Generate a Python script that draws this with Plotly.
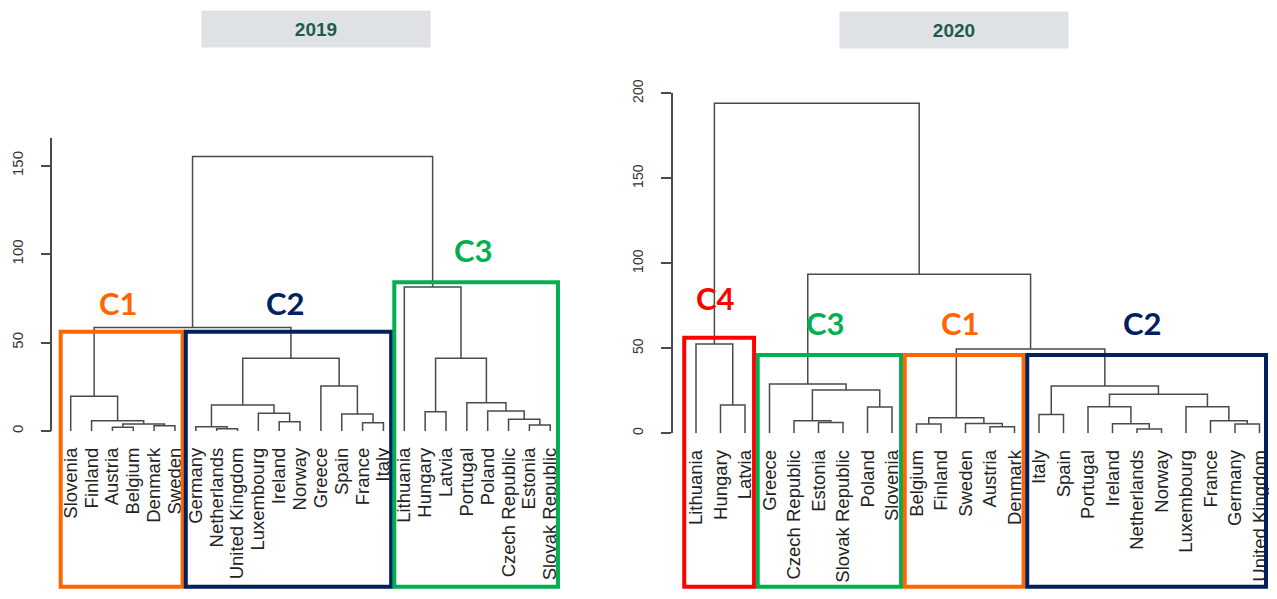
import plotly.graph_objects as go

# The page adds an 8 px body margin on every side; the figure is sized so that the
# page does not overflow the 1277x599 window, and all pixel positions below
# (measured on the screenshot) are shifted by that margin.
PAGE_OFF = 8
W, H = 1277 - 2 * PAGE_OFF, 599 - 2 * PAGE_OFF

# ---------------- data ----------------
leaves_2019 = ["Slovenia", "Finland", "Austria", "Belgium", "Denmark", "Sweden",
               "Germany", "Netherlands", "United Kingdom", "Luxembourg", "Ireland", "Norway",
               "Greece", "Spain", "France", "Italy", "Lithuania", "Hungary", "Latvia",
               "Portugal", "Poland", "Czech Republic", "Estonia", "Slovak Republic"]
# R-style merge matrix: negative = leaf (1-based), positive = earlier merge (1-based)
merge_a_2019 = [-8, -3, -7, -5, -23, 2, -15, -11, -22, -2, -14, -10, -18, -21, 3, -20, -1, -13, 15, 13, 17, -17, 21]
merge_b_2019 = [-9, -4, 1, -6, -24, 4, -16, -12, 5, 6, 7, 8, -19, 9, 12, 14, 10, 11, 18, 16, 19, 20, 22]
merge_h_2019 = [1.3, 2.1, 2.4, 3.0, 3.4, 4.0, 4.7, 5.3, 6.6, 5.8, 9.6, 10.0, 10.9, 11.3, 14.7, 16.0,
                19.7, 25.4, 41.2, 41.2, 58.6, 81.4, 155.3]

leaves_2020 = ["Lithuania", "Hungary", "Latvia", "Greece", "Czech Republic", "Estonia",
               "Slovak Republic", "Poland", "Slovenia", "Belgium", "Finland", "Sweden", "Austria",
               "Denmark", "Italy", "Spain", "Portugal", "Ireland", "Netherlands", "Norway",
               "Luxembourg", "France", "Germany", "United Kingdom"]
merge_a_2020 = [-19, -13, -23, -10, -18, -12, -6, -5, -22, 4, -15, -17, -21, -8, -2, 12, 8, 11, -4, 10, -1, 19, 21]
merge_b_2020 = [-20, -14, -24, -11, 1, 2, -7, 7, 3, 6, -16, 5, 9, -9, -3, 13, 14, 16, 17, 18, 15, 20, 22]
merge_h_2020 = [2.5, 3.9, 5.4, 5.5, 5.6, 5.7, 6.3, 7.4, 7.4, 9.2, 11.0, 15.6, 15.6, 15.4, 16.7, 22.9,
                25.5, 27.8, 29.0, 49.6, 52.5, 93.5, 194.1]

y_ticks_2019 = [0, 50, 100, 150]
y_ticks_2020 = [0, 50, 100, 150, 200]

cluster_names_2019 = ["C1", "C2", "C3"]
cluster_first_2019 = [0, 6, 16]
cluster_last_2019 = [5, 15, 23]
cluster_top_2019 = [56.1, 56.1, 84.1]

cluster_names_2020 = ["C4", "C3", "C1", "C2"]
cluster_first_2020 = [0, 3, 9, 14]
cluster_last_2020 = [2, 8, 13, 23]
cluster_top_2020 = [56.2, 46.1, 46.1, 46.1]

# ---------------- styling ----------------
CLUSTER_COLORS = {"C1": "#FF6600", "C2": "#002060", "C3": "#00B050", "C4": "#FF0000"}
LINE_COLOR = "#4a4a4a"
label_lift_2019 = [29, 29, 32]
label_lift_2020 = [40, 32, 32, 32]

# panel geometry (screenshot pixels)
P2019 = dict(axis_px=52.3, right_px=600, leaf0_px=70.7, step_px=20.85,
             y0_px=431.0, ytop_px=138.0, ytop_val=165.7)
P2020 = dict(axis_px=672.5, right_px=1277 - PAGE_OFF, leaf0_px=696.0, step_px=24.5,
             y0_px=433.3, ytop_px=93.3, ytop_val=200.0)
BOX_BOTTOM_PX = 586.7


def fx(px):
    return (px - PAGE_OFF) / W


def fy(py):
    return 1 - (py - PAGE_OFF) / H


def dendro_path(ma, mb, mh):
    xs, ys, node_x, node_h = [], [], [], []

    def pos(ref):
        if ref < 0:
            return -ref - 1, 0.0
        return node_x[ref - 1], node_h[ref - 1]

    for a, b, h in zip(ma, mb, mh):
        xa, ha = pos(a)
        xb, hb = pos(b)
        xs += [xa, xa, xb, xb, None]
        ys += [ha, h, h, hb, None]
        node_x.append((xa + xb) / 2)
        node_h.append(h)
    return xs, ys


fig = go.Figure()


def add_panel(idx, P, leaves, ma, mb, mh, yticks, tickfont_size,
              names, firsts, lasts, tops, lifts):
    xa = "x" if idx == 1 else "x2"
    ya = "y" if idx == 1 else "y2"
    xs, ys = dendro_path(ma, mb, mh)
    fig.add_trace(go.Scatter(x=xs, y=ys, mode="lines", xaxis=xa, yaxis=ya,
                             line=dict(color=LINE_COLOR, width=1.5),
                             hoverinfo="skip", showlegend=False))
    r0 = (P["axis_px"] - P["leaf0_px"]) / P["step_px"]
    r1 = (P["right_px"] - P["leaf0_px"]) / P["step_px"]
    dom_b = fy(P["y0_px"])
    dom_t = fy(P["ytop_px"])
    xkey = "xaxis" if idx == 1 else "xaxis2"
    ykey = "yaxis" if idx == 1 else "yaxis2"
    fig.update_layout({
        xkey: dict(domain=[fx(P["axis_px"]), min(1.0, fx(P["right_px"]))], range=[r0, r1],
                   anchor=ya, tickmode="array", tickvals=list(range(len(leaves))),
                   ticktext=leaves, tickangle=-90, showline=False, showgrid=False,
                   zeroline=False, ticks="", ticklabelstandoff=12, automargin=False,
                   ticklabeloverflow="allow",
                   tickfont=dict(family="Liberation Sans, Arial, sans-serif", size=18.5, color="#222222")),
        ykey: dict(domain=[dom_b, dom_t], range=[0, P["ytop_val"]], anchor=xa,
                   tickmode="array", tickvals=yticks, tickangle=-90,
                   showline=True, linecolor=LINE_COLOR, linewidth=1.5,
                   ticks="outside", ticklen=10, tickwidth=1.5, tickcolor=LINE_COLOR,
                   showgrid=False, zeroline=False, ticklabelstandoff=12, automargin=False,
                   ticklabeloverflow="allow",
                   tickfont=dict(family="Liberation Sans, Arial, sans-serif", size=tickfont_size, color="#333333")),
    })
    x_max = r1 - 3.0 / P["step_px"]
    for name, f, l, top, lift in zip(names, firsts, lasts, tops, lifts):
        col = CLUSTER_COLORS[name]
        top_paper = dom_b + top / P["ytop_val"] * (dom_t - dom_b)
        x0, x1 = f - 0.48, min(l + 0.37, x_max)
        fig.add_shape(type="rect", xref=xa, yref="paper", x0=x0, x1=x1,
                      y0=fy(BOX_BOTTOM_PX), y1=top_paper,
                      line=dict(color=col, width=4), fillcolor="rgba(0,0,0,0)")
        fig.add_annotation(xref=xa, yref="paper", x=(x0 + x1) / 2 - 0.15, y=top_paper,
                           yanchor="middle", yshift=lift, showarrow=False, text=name,
                           font=dict(family="Lato, Noto Sans, sans-serif", size=31,
                                     color=col, weight="bold"))


add_panel(1, P2019, leaves_2019, merge_a_2019, merge_b_2019, merge_h_2019, y_ticks_2019, 15,
          cluster_names_2019, cluster_first_2019, cluster_last_2019, cluster_top_2019, label_lift_2019)
add_panel(2, P2020, leaves_2020, merge_a_2020, merge_b_2020, merge_h_2020, y_ticks_2020, 14,
          cluster_names_2020, cluster_first_2020, cluster_last_2020, cluster_top_2020, label_lift_2020)

# panel titles
for text, cx, cy in [("2019", 315.8, 29.0), ("2020", 954.0, 30.0)]:
    fig.add_annotation(xref="paper", yref="paper", x=fx(cx), y=fy(cy),
                       xanchor="center", yanchor="middle", showarrow=False, text=f"<b>{text}</b>",
                       width=228, height=36, bgcolor="#DEE2E5", borderpad=0,
                       font=dict(family="Liberation Sans Narrow, Liberation Sans, Arial, sans-serif",
                                 size=19, color="#1F5B4C"))

fig.update_layout(width=W, height=H, margin=dict(l=0, r=0, t=0, b=0, autoexpand=False),
                  autosize=False, paper_bgcolor="white", plot_bgcolor="white", showlegend=False)

fig.write_html("out.html")
